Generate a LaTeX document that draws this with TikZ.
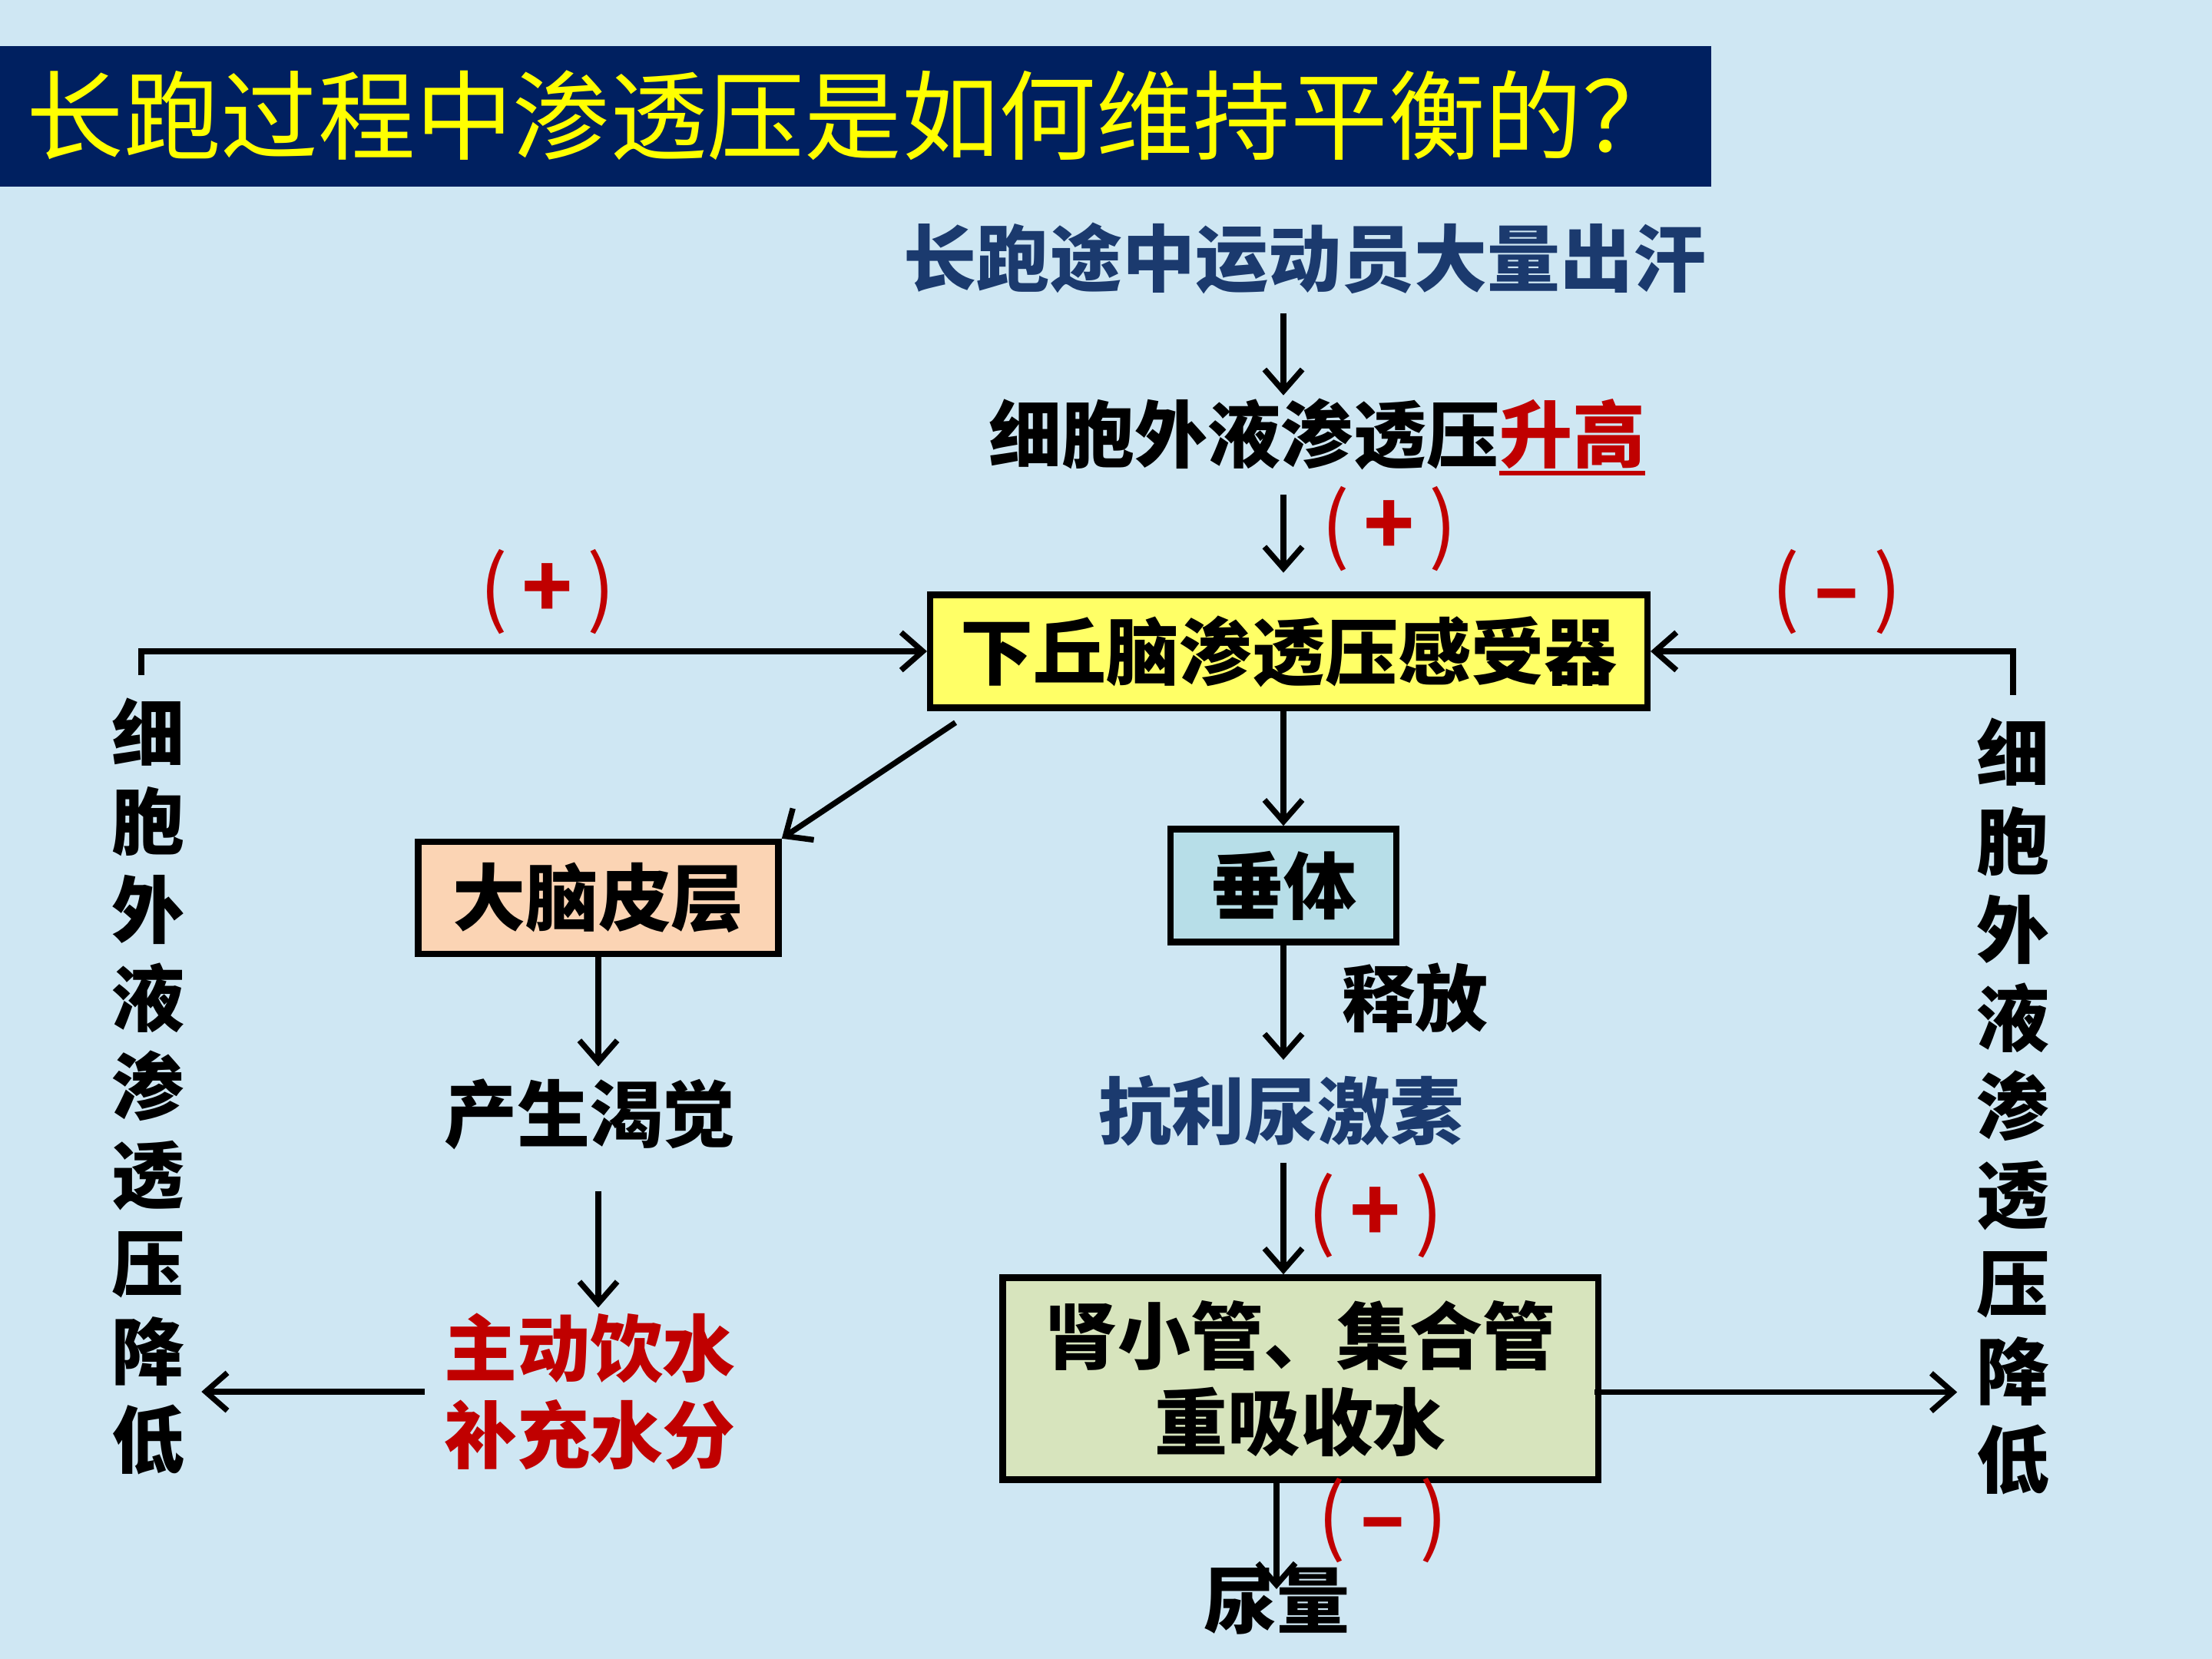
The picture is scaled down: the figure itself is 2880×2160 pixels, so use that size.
\documentclass[tikz,border=0pt]{standalone}
\usepackage{fontspec}
\setmainfont{Noto Sans CJK SC}
\usepackage{tikz}
\usetikzlibrary{arrows.meta,positioning,calc}
\definecolor{Cbg}{HTML}{CFE7F3}
\definecolor{Cbar}{HTML}{002060}
\definecolor{Ctitle}{HTML}{FFFF00}
\definecolor{Cnavy}{HTML}{1B3A6E}
\definecolor{Csign}{HTML}{C00000}
\definecolor{Chypo}{HTML}{FFFF66}
\definecolor{Ccortex}{HTML}{FBD4B4}
\definecolor{Cpit}{HTML}{B7DEE8}
\definecolor{Ckid}{HTML}{D7E4BD}
\newcommand\thickul[1]{\setbox0=\hbox{#1}\leavevmode\rlap{\rule[-5pt]{\wd0}{1.8pt}}\box0}

\begin{document}
\begin{tikzpicture}[
  x=0.01cm, y=-0.01cm,
  >={Straight Barb[length=8pt,width=14pt]},
  lbl/.style   ={inner sep=0pt, align=center, font=\bfseries\fontsize{27}{32}\selectfont},
  box/.style   ={draw, line width=2.4pt, inner sep=0pt, align=center, font=\bfseries\fontsize{27}{32}\selectfont},
  sign/.style  ={inner sep=0pt, text=Csign, font=\fontsize{31}{34}\selectfont},
  vtext/.style ={inner sep=0pt, align=center, font=\bfseries\fontsize{27}{32.7}\selectfont},
  arr/.style   ={->, line width=2.1pt},
]

% ── page and title strip ─────────────────────────────────────────────
\fill[Cbg] (0,0) rectangle (2880,2160);
\useasboundingbox (0,0) rectangle (2880,2160);
\fill[Cbar] (0,60) rectangle (2228,243);
\node[anchor=west, inner sep=0pt, text=Ctitle, font=\fontsize{36}{40}\selectfont] (title) at (34,150)
  {长跑过程中渗透压是如何维持平衡的？};

% ── main chain ───────────────────────────────────────────────────────
\coordinate (spine) at (1671,0);
\node[lbl, text=Cnavy] (sweat) at (1699,336) {长跑途中运动员大量出汗};
\node[lbl] (rise) at (1715,569) {细胞外液渗透压\textcolor{Csign}{\thickul{升高}}};
\node[box, fill=Chypo, minimum width=9.33cm, minimum height=1.47cm] (hypo) at (1678,848)
  {下丘脑渗透压感受器};

% ── left branch: cortex ──────────────────────────────────────────────
\node[box, fill=Ccortex, minimum width=4.69cm, minimum height=1.46cm] (cortex) at (779,1169) {大脑皮层};
\node[lbl] (thirst) at (768,1451) {产生渴觉};
\node[lbl, text=Csign] (drink) at (768,1812) {主动饮水\\补充水分};

% ── right branch: pituitary ──────────────────────────────────────────
\node[box, fill=Cpit, minimum width=2.94cm, minimum height=1.47cm] (pit) at (1671,1153) {垂体};
\node[lbl] (release) at (1842,1299) {释放};
\node[lbl, text=Cnavy] (adh) at (1668,1446) {抗利尿激素};
\node[box, fill=Ckid, minimum width=7.75cm, minimum height=2.63cm] (kid) at (1693,1795)
  {肾小管、集合管\\重吸收水};
\node[lbl] (urine) at (1662,2085) {尿量};

% ── outcome columns ──────────────────────────────────────────────────
\node[vtext] (lvert) at (193,1414) {细\\胞\\外\\液\\渗\\透\\压\\降\\低};
\node[vtext] (rvert) at (2621,1440) {细\\胞\\外\\液\\渗\\透\\压\\降\\低};

% ── signs ────────────────────────────────────────────────────────────
\node[sign] (s1) at (1809,689) {(\,\textbf{+}\,)};
\node[sign] (s2) at (713,771) {(\,\textbf{+}\,)};
\node[sign] (s3) at (2391,771) {(\,\textbf{–}\,)};
\node[sign] (s4) at (1791,1583) {(\,\textbf{+}\,)};
\node[sign] (s5) at (1800,1980) {(\,\textbf{–}\,)};

% ── connectors ───────────────────────────────────────────────────────
\draw[arr, shorten <=7pt, shorten >=1pt] (spine |- sweat.south) -- (spine |- rise.north);
\draw[arr, shorten <=7pt, shorten >=7pt] (spine |- rise.south) -- (spine |- hypo.north);
\draw[arr] (spine |- hypo.south) -- (spine |- pit.north);
\draw[arr, shorten >=5.5pt] (spine |- pit.south) -- (spine |- adh.north);
\draw[arr, shorten <=6pt] (spine |- adh.south) -- (spine |- kid.north);
\draw[arr, shorten >=-8pt] (urine.north |- kid.south) -- (urine.north);

\draw[arr] ([shift={(37,15)}]hypo.south west) -- (cortex.north east);
\draw[arr, shorten >=4.5pt] (cortex.south) -- (cortex.south |- thirst.north);
\draw[arr, shorten <=15pt, shorten >=2pt] (cortex.south |- thirst.south) -- (cortex.south |- drink.north);
\draw[arr, shorten >=6pt] ([xshift=-7pt]drink.west) -- (lvert.east |- drink.west);

\coordinate (kidout) at ([yshift=-5pt]kid.east);
\draw[arr, shorten <=-2.5pt, shorten >=7pt] (kidout) -- (rvert.west |- kidout);

% feedback loops back to the sensor
\draw[arr] ([shift={(-9,-29)}]lvert.north) |- (hypo.west);
\draw[arr] ([shift={(0,-29)}]rvert.north) |- (hypo.east);

\end{tikzpicture}
\end{document}
